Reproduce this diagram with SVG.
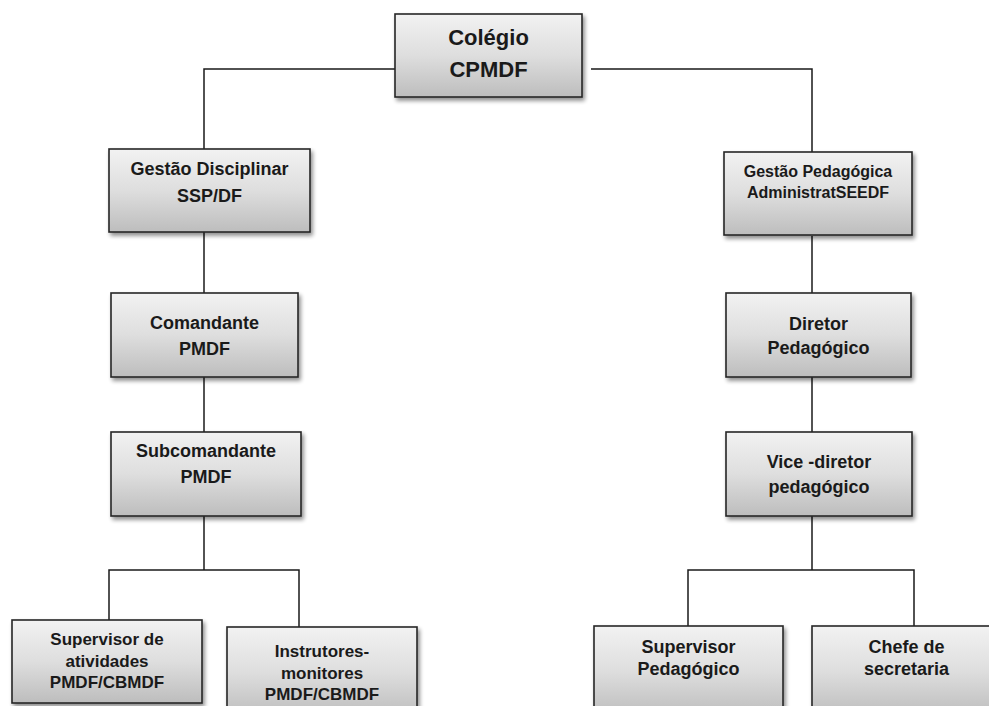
<svg xmlns="http://www.w3.org/2000/svg" width="989" height="706" viewBox="0 0 989 706">
<defs>
<linearGradient id="g" x1="0" y1="0" x2="0" y2="1">
<stop offset="0" stop-color="#f2f2f2"/>
<stop offset="0.5" stop-color="#dedede"/>
<stop offset="1" stop-color="#bdbdbd"/>
</linearGradient>
<filter id="sh" x="-10%" y="-10%" width="125%" height="130%">
<feGaussianBlur in="SourceAlpha" stdDeviation="2"/>
<feOffset dx="2" dy="3" result="b"/>
<feComponentTransfer><feFuncA type="linear" slope="0.45"/></feComponentTransfer>
<feMerge><feMergeNode/><feMergeNode in="SourceGraphic"/></feMerge>
</filter>
</defs>
<style>
.box{fill:url(#g);stroke:#262626;stroke-width:1.6;filter:url(#sh)}
.c{fill:none;stroke:#1a1a1a;stroke-width:1.5}
text{font-family:"Liberation Sans",Arial,sans-serif;font-weight:bold;fill:#1a1a1a;text-anchor:middle}
.t18{font-size:18px}
.t16{font-size:16px}
.t17{font-size:17px}
.t22{font-size:22px}
</style>
<rect width="989" height="706" fill="#ffffff"/>
<g id="connectors">
<polyline class="c" points="395,69 204,69 204,149"/>
<polyline class="c" points="591,69 812,69 812,152"/>
<line class="c" x1="204" y1="232" x2="204" y2="293"/>
<line class="c" x1="204" y1="377" x2="204" y2="432"/>
<line class="c" x1="204" y1="516" x2="204" y2="570"/>
<polyline class="c" points="109,620 109,570 299,570 299,627"/>
<line class="c" x1="812" y1="236" x2="812" y2="293"/>
<line class="c" x1="812" y1="377" x2="812" y2="432"/>
<line class="c" x1="812" y1="516" x2="812" y2="570"/>
<polyline class="c" points="688,626 688,570 914,570 914,626"/>
</g>
<g id="colegio">
<rect class="box" x="395" y="14" width="187" height="83"/>
<text class="t22" x="488.5" y="45">Colégio</text>
<text class="t22" x="488.5" y="77">CPMDF</text>
</g>
<g id="gestao-disciplinar">
<rect class="box" x="109" y="149" width="201" height="83"/>
<text class="t18" x="209.5" y="175">Gestão Disciplinar</text>
<text class="t18" x="209.5" y="202">SSP/DF</text>
</g>
<g id="comandante">
<rect class="box" x="111" y="293" width="187" height="84"/>
<text class="t18" x="204.5" y="329">Comandante</text>
<text class="t18" x="204.5" y="355">PMDF</text>
</g>
<g id="subcomandante">
<rect class="box" x="111" y="432" width="190" height="84"/>
<text class="t18" x="206" y="457">Subcomandante</text>
<text class="t18" x="206" y="483">PMDF</text>
</g>
<g id="supervisor-atividades">
<rect class="box" x="12" y="620" width="190" height="83"/>
<text class="t17" x="107" y="645">Supervisor de</text>
<text class="t17" x="107" y="667">atividades</text>
<text class="t17" x="107" y="688">PMDF/CBMDF</text>
</g>
<g id="instrutores">
<rect class="box" x="227" y="627" width="190" height="90"/>
<text class="t17" x="322" y="657">Instrutores-</text>
<text class="t17" x="322" y="679">monitores</text>
<text class="t17" x="322" y="700">PMDF/CBMDF</text>
</g>
<g id="gestao-pedagogica">
<rect class="box" x="724" y="152" width="188" height="83"/>
<text class="t16" x="818" y="177">Gestão Pedagógica</text>
<text class="t16" x="818" y="198">AdministratSEEDF</text>
</g>
<g id="diretor">
<rect class="box" x="726" y="293" width="185" height="84"/>
<text class="t18" x="818.5" y="330">Diretor</text>
<text class="t18" x="818.5" y="354">Pedagógico</text>
</g>
<g id="vice-diretor">
<rect class="box" x="726" y="432" width="186" height="84"/>
<text class="t18" x="819" y="468">Vice -diretor</text>
<text class="t18" x="819" y="493">pedagógico</text>
</g>
<g id="supervisor-pedagogico">
<rect class="box" x="594" y="626" width="189" height="90"/>
<text class="t18" x="688.5" y="653">Supervisor</text>
<text class="t18" x="688.5" y="675">Pedagógico</text>
</g>
<g id="chefe-secretaria">
<rect class="box" x="812" y="626" width="189" height="90"/>
<text class="t18" x="906.5" y="653">Chefe de</text>
<text class="t18" x="906.5" y="675">secretaria</text>
</g>
</svg>
